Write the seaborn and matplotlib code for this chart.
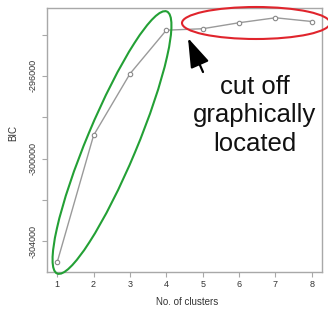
import matplotlib
matplotlib.use("Agg")
import matplotlib.pyplot as plt
import seaborn as sns
from matplotlib.patches import Ellipse, FancyArrowPatch
from matplotlib.transforms import IdentityTransform

CLUSTERS = [1, 2, 3, 4, 5, 6, 7, 8]
BIC = [-305010, -298880, -295900, -293790, -293720, -293430, -293190, -293370]
Y_TICKS = [-304000, -302000, -300000, -298000, -296000, -294000]
Y_TICK_LABELS = ["-304000", "", "-300000", "", "-296000", ""]
NOTE_LINES = ["cut off", "graphically", "located"]

LINE_COLOR = "#9a9a9a"
FRAME_COLOR = "#a8a8a8"
TEXT_COLOR = "#333333"
GREEN = "#23a035"
RED = "#e0242c"

sns.set_style("white")
plt.rcParams["font.family"] = ["Liberation Sans", "DejaVu Sans"]
plt.rcParams["axes.unicode_minus"] = False

fig = plt.figure(figsize=(3.28, 3.10), dpi=100)
ax = fig.add_axes([47 / 328, 1 - 272 / 310, 275 / 328, 264 / 310])

sns.lineplot(
    x=CLUSTERS,
    y=BIC,
    ax=ax,
    color=LINE_COLOR,
    linewidth=1,
    marker="o",
    markersize=3.2,
    markerfacecolor="white",
    markeredgecolor="#888888",
    markeredgewidth=0.8,
)

# R style 4% padding on both axes
xr = max(CLUSTERS) - min(CLUSTERS)
yr = max(BIC) - min(BIC)
ax.set_xlim(min(CLUSTERS) - 0.04 * xr, max(CLUSTERS) + 0.04 * xr)
ax.set_ylim(min(BIC) - 0.04 * yr, max(BIC) + 0.04 * yr)

ax.set_xticks(CLUSTERS)
ax.set_xticklabels([str(c) for c in CLUSTERS])
ax.set_yticks(Y_TICKS)
ax.set_yticklabels(Y_TICK_LABELS, rotation=90, va="center")

for side in ax.spines.values():
    side.set_color(FRAME_COLOR)
    side.set_linewidth(1)

ax.tick_params(axis="both", direction="out", length=3.5, width=0.8,
               color=FRAME_COLOR, labelsize=6.5, labelcolor=TEXT_COLOR)
ax.tick_params(axis="x", pad=2)
ax.tick_params(axis="y", pad=3)
ax.tick_params(left=True, bottom=True)

ax.set_xlabel("No. of clusters", fontsize=7, color=TEXT_COLOR)
ax.set_ylabel("BIC", fontsize=7, color=TEXT_COLOR)
ax.xaxis.set_label_coords(0.509, -0.114)
ax.yaxis.set_label_coords(-0.124, 0.527)
ax.xaxis.label.set_va("center")
ax.yaxis.label.set_va("center")

# hand drawn highlights, in pixel space
fig.add_artist(Ellipse((112, 167.5), 284, 50, angle=67.3, fill=False,
                       edgecolor=GREEN, linewidth=1.5, transform=IdentityTransform()))
fig.add_artist(Ellipse((256, 287), 148, 32, angle=0, fill=False,
                       edgecolor=RED, linewidth=1.5, transform=IdentityTransform()))

fig.add_artist(FancyArrowPatch((203, 238), (188, 272),
                               arrowstyle="-|>,head_length=0.9,head_width=0.3",
                               mutation_scale=20, linewidth=1.6, color="black",
                               shrinkA=0, shrinkB=0, transform=IdentityTransform()))

for line, base in zip(NOTE_LINES, [216, 188, 159]):
    fig.text(255 / 328, base / 310, line, ha="center", va="baseline",
             fontsize=18.5, color="#111111")

fig.savefig("out.png", dpi=100)
